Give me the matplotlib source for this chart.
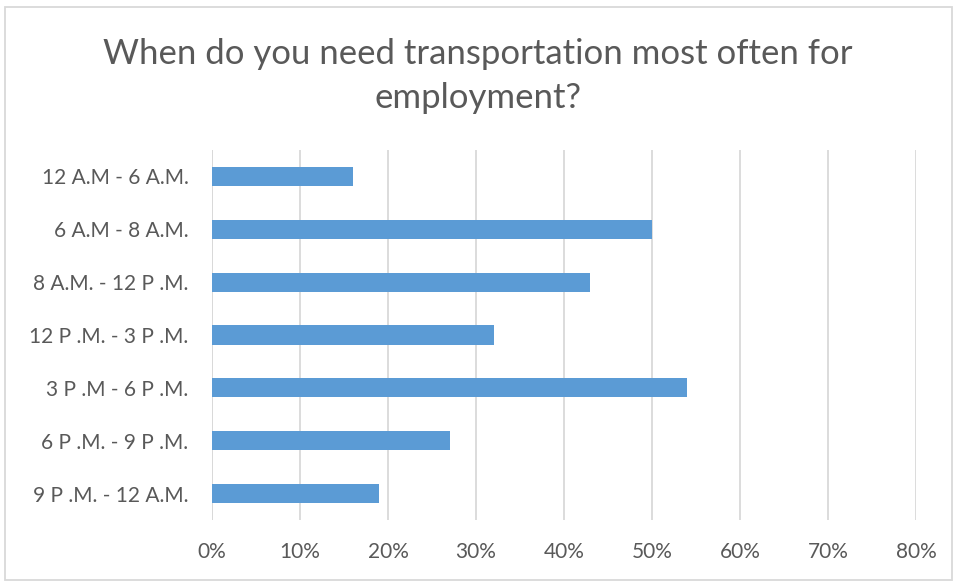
import numpy as np
import matplotlib.pyplot as plt
from matplotlib.patches import Rectangle
from matplotlib.ticker import FuncFormatter

# datos
categories = ['12 A.M - 6 A.M.', '6 A.M - 8 A.M.', '8 A.M. - 12 P .M.', '12 P .M. - 3 P .M.',
              '3 P .M - 6 P .M.', '6 P .M. - 9 P .M.', '9 P .M. - 12 A.M.']
values = [0.16, 0.50, 0.43, 0.32, 0.54, 0.27, 0.19]
x_ticks = [0.0, 0.1, 0.2, 0.3, 0.4, 0.5, 0.6, 0.7, 0.8]
title = 'When do you need transportation most often for\nemployment?'

bar_color = '#5B9BD5'
text_color = '#595959'
grid_color = '#D9D9D9'

plt.rcParams['font.family'] = ['Lato', 'DejaVu Sans']

fig = plt.figure(figsize=(9.56, 5.82), dpi=100)
ax = fig.add_axes([212 / 956, 1 - 520 / 582, 704 / 956, 370 / 582])

y = np.arange(len(categories))
ax.barh(y, values, height=0.36, color=bar_color, zorder=3)
ax.set_ylim(len(categories) - 0.5, -0.5)
ax.set_yticks(y)
ax.set_yticklabels(categories)

ax.set_xlim(0, 0.8)
ax.set_xticks(x_ticks)
ax.xaxis.set_major_formatter(FuncFormatter(lambda v, p: f'{v * 100:.0f}%'))
ax.grid(axis='x', color=grid_color, linewidth=1.3, zorder=0)
ax.axvline(0, color=grid_color, linewidth=1.3, zorder=1)

for s in ax.spines.values():
    s.set_visible(False)
ax.tick_params(axis='both', length=0, labelsize=15, colors=text_color)
ax.tick_params(axis='x', pad=16)
ax.tick_params(axis='y', pad=17)

fig.text(0.5, 1 - 76 / 582, title, ha='center', va='center', fontsize=25,
         color=text_color, linespacing=1.5)

# borde del grafico
fig.patches.append(Rectangle((5 / 956, 2 / 582), 947 / 956, 573 / 582, transform=fig.transFigure,
                             fill=False, edgecolor=grid_color, linewidth=1.3))

fig.savefig('out.png', dpi=100)
